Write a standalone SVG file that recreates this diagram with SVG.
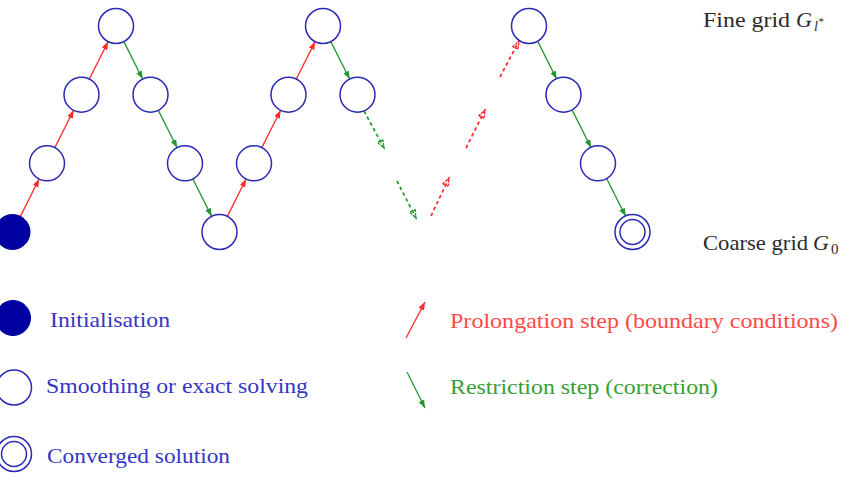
<svg xmlns="http://www.w3.org/2000/svg" width="851" height="481" viewBox="0 0 851 481">
  <style>
    .node { fill: #ffffff; stroke: #2a2ab5; stroke-width: 1.5; }
    .init { fill: #0000a0; stroke: #0000a0; stroke-width: 1; }
    .pro { stroke: #ff2a2a; stroke-width: 1.3; fill: none; }
    .res { stroke: #23952a; stroke-width: 1.3; fill: none; }
    .dash { stroke-dasharray: 3.5 3; stroke-width: 1.7; }
    text { font-family: 'Liberation Serif', 'Times New Roman', serif; }
    .blue { fill: #3535c5; }
    .red { fill: #ff4848; }
    .green { fill: #35a035; }
    .black { fill: #2a2a2a; }
  </style>
  <defs>
    <marker id="headR" markerUnits="userSpaceOnUse" markerWidth="10" markerHeight="8" refX="8" refY="3" orient="auto">
      <path d="M0,0 L8,3 L0,6 z" fill="#ff2a2a"/>
    </marker>
    <marker id="headG" markerUnits="userSpaceOnUse" markerWidth="10" markerHeight="8" refX="8" refY="3" orient="auto">
      <path d="M0,0 L8,3 L0,6 z" fill="#23952a"/>
    </marker>
    <!-- open, broken heads for the skipped levels -->
    <marker id="headRd" markerUnits="userSpaceOnUse" markerWidth="11" markerHeight="9" refX="8.5" refY="3.5" orient="auto">
      <path d="M0.5,0.5 L8.5,3.5 L0.5,6.5 z" fill="none" stroke="#ff2a2a" stroke-width="1.4" stroke-dasharray="2.5 1"/>
    </marker>
    <marker id="headGd" markerUnits="userSpaceOnUse" markerWidth="11" markerHeight="9" refX="8.5" refY="3.5" orient="auto">
      <path d="M0.5,0.5 L8.5,3.5 L0.5,6.5 z" fill="none" stroke="#23952a" stroke-width="1.4" stroke-dasharray="2.5 1"/>
    </marker>
  </defs>

  <!-- connectors -->
  <g id="connectors">
    <line class="pro" x1="20.35" y1="216.36" x2="39.15" y2="178.94" marker-end="url(#headR)"/>
    <line class="pro" x1="54.85" y1="147.66" x2="73.65" y2="110.24" marker-end="url(#headR)"/>
    <line class="pro" x1="89.35" y1="79.06" x2="108.15" y2="41.64" marker-end="url(#headR)"/>
    <line class="res" x1="123.85" y1="41.64" x2="142.65" y2="79.06" marker-end="url(#headG)"/>
    <line class="res" x1="158.35" y1="110.34" x2="177.15" y2="147.76" marker-end="url(#headG)"/>
    <line class="res" x1="192.85" y1="178.94" x2="211.65" y2="216.36" marker-end="url(#headG)"/>
    <line class="pro" x1="227.35" y1="216.36" x2="246.15" y2="178.94" marker-end="url(#headR)"/>
    <line class="pro" x1="261.85" y1="147.66" x2="280.65" y2="110.24" marker-end="url(#headR)"/>
    <line class="pro" x1="296.35" y1="79.06" x2="315.15" y2="41.64" marker-end="url(#headR)"/>
    <line class="res" x1="330.85" y1="41.64" x2="349.65" y2="79.06" marker-end="url(#headG)"/>
    <line class="res dash" x1="364" y1="111" x2="384" y2="148" marker-end="url(#headGd)"/>
    <line class="res dash" x1="397" y1="181" x2="416" y2="218" marker-end="url(#headGd)"/>
    <line class="pro dash" x1="431" y1="216" x2="449" y2="178" marker-end="url(#headRd)"/>
    <line class="pro dash" x1="466" y1="148" x2="485" y2="110" marker-end="url(#headRd)"/>
    <line class="pro dash" x1="500" y1="77" x2="519" y2="41" marker-end="url(#headRd)"/>
    <line class="res" x1="537.85" y1="41.64" x2="556.65" y2="79.06" marker-end="url(#headG)"/>
    <line class="res" x1="572.35" y1="110.34" x2="591.15" y2="147.76" marker-end="url(#headG)"/>
    <line class="res" x1="606.85" y1="178.94" x2="625.65" y2="216.36" marker-end="url(#headG)"/>
  </g>

  <!-- grid-level nodes -->
  <g id="n0"><circle class="init" cx="12.5" cy="232" r="17.5"/></g>
  <g id="n1"><circle class="node" cx="47" cy="163.3" r="17.5"/></g>
  <g id="n2"><circle class="node" cx="81.5" cy="94.7" r="17.5"/></g>
  <g id="n3"><circle class="node" cx="116" cy="26" r="17.5"/></g>
  <g id="n4"><circle class="node" cx="150.5" cy="94.7" r="17.5"/></g>
  <g id="n5"><circle class="node" cx="185" cy="163.3" r="17.5"/></g>
  <g id="n6"><circle class="node" cx="219.5" cy="232" r="17.5"/></g>
  <g id="n7"><circle class="node" cx="254" cy="163.3" r="17.5"/></g>
  <g id="n8"><circle class="node" cx="288.5" cy="94.7" r="17.5"/></g>
  <g id="n9"><circle class="node" cx="323" cy="26" r="17.5"/></g>
  <g id="n10"><circle class="node" cx="357.5" cy="94.7" r="17.5"/></g>
  <g id="n15"><circle class="node" cx="529" cy="26" r="17.5"/></g>
  <g id="n16"><circle class="node" cx="563.5" cy="94.7" r="17.5"/></g>
  <g id="n17"><circle class="node" cx="598" cy="163.3" r="17.5"/></g>
  <g id="n18">
    <circle class="node" cx="632.5" cy="232" r="17.5"/>
    <circle class="node" cx="632.5" cy="232" r="12.5"/>
  </g>

  <!-- level labels -->
  <g id="label-fine">
    <text class="black" x="703" y="27" style="font-size:22px" textLength="87" lengthAdjust="spacingAndGlyphs">Fine grid</text>
    <text class="black" x="796" y="27" style="font-size:22px;font-style:italic">G</text>
    <text class="black" x="814" y="31" style="font-size:14px;font-style:italic">l</text>
    <text class="black" x="818.5" y="25" style="font-size:11px">*</text>
  </g>
  <g id="label-coarse">
    <text class="black" x="703" y="250" style="font-size:22px" textLength="105" lengthAdjust="spacingAndGlyphs">Coarse grid</text>
    <text class="black" x="813" y="250" style="font-size:22px;font-style:italic">G</text>
    <text class="black" x="831" y="254" style="font-size:15px">0</text>
  </g>

  <!-- legend -->
  <g id="legend-init">
    <circle class="init" cx="13" cy="318" r="17.5"/>
    <text class="blue" x="50" y="327" style="font-size:22px" textLength="120" lengthAdjust="spacingAndGlyphs">Initialisation</text>
  </g>
  <g id="legend-smooth">
    <circle class="node" cx="14" cy="387.5" r="17.5"/>
    <text class="blue" x="46" y="393" style="font-size:22px" textLength="262" lengthAdjust="spacingAndGlyphs">Smoothing or exact solving</text>
  </g>
  <g id="legend-converged">
    <circle class="node" cx="14" cy="454" r="17.5"/>
    <circle class="node" cx="14" cy="454" r="12.5"/>
    <text class="blue" x="47" y="463" style="font-size:22px" textLength="183" lengthAdjust="spacingAndGlyphs">Converged solution</text>
  </g>
  <g id="legend-prolongation">
    <line class="pro" x1="406" y1="338" x2="425" y2="302" marker-end="url(#headR)"/>
    <text class="red" x="450" y="328" style="font-size:22px" textLength="388" lengthAdjust="spacingAndGlyphs">Prolongation step (boundary conditions)</text>
  </g>
  <g id="legend-restriction">
    <line class="res" x1="407" y1="372" x2="425" y2="408" marker-end="url(#headG)"/>
    <text class="green" x="450" y="394" style="font-size:22px" textLength="268" lengthAdjust="spacingAndGlyphs">Restriction step (correction)</text>
  </g>
</svg>
